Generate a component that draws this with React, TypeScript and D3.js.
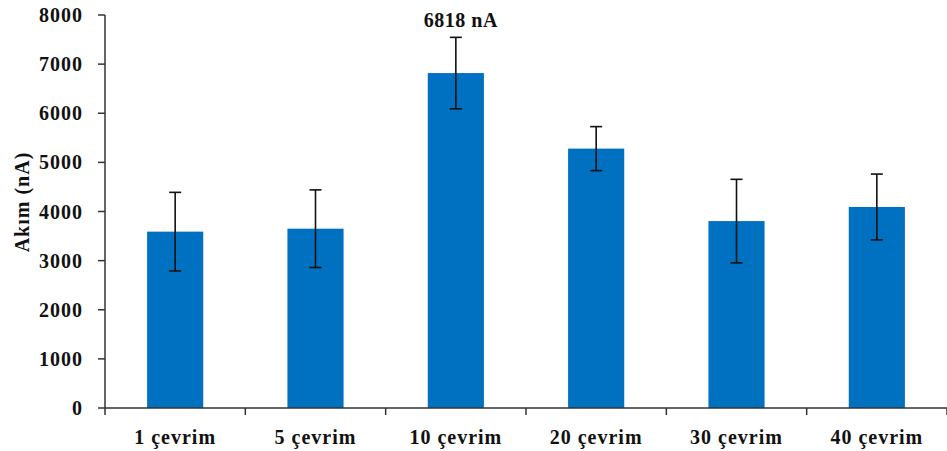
import React from "react";
import * as d3 from "d3";

const categories = ["1 çevrim", "5 çevrim", "10 çevrim", "20 çevrim", "30 çevrim", "40 çevrim"];
const values = [3590, 3650, 6818, 5280, 3805, 4092];
const errors = [800, 790, 727, 448, 850, 670];
const yTicks = [0, 1000, 2000, 3000, 4000, 5000, 6000, 7000, 8000];
const peakLabel = "6818 nA";
const yTitle = "Akım (nA)";

const W = 947;
const H = 451;
const M = { left: 105, right: 947, top: 15, bottom: 408 };

export default function App() {
  const x = d3.scaleBand<string>().domain(categories).range([M.left, M.right]).padding(0);
  const y = d3.scaleLinear().domain([0, 8000]).range([M.bottom, M.top]);
  const bw = x.bandwidth() * 0.4;
  const font = "'Liberation Serif', 'Times New Roman', serif";
  const peakIdx = values.indexOf(d3.max(values) as number);
  const boundaries = d3.range(categories.length + 1).map((i) => M.left + i * x.step());

  return (
    <svg width={W} height={H} style={{ position: "absolute", left: 0, top: 0, background: "#fff" }}
      fontFamily={font} fontWeight="bold">
      {/* bars */}
      {categories.map((c, i) => (
        <rect key={c} x={(x(c) as number) + (x.bandwidth() - bw) / 2} y={y(values[i])}
          width={bw} height={y(0) - y(values[i])} fill="#0070C0" />
      ))}
      {/* error bars */}
      {categories.map((c, i) => {
        const cx = (x(c) as number) + x.bandwidth() / 2;
        const t = y(values[i] + errors[i]);
        const b = y(values[i] - errors[i]);
        return (
          <g key={c} stroke="#111" strokeWidth={1.6}>
            <line x1={cx} x2={cx} y1={t} y2={b} />
            <line x1={cx - 6} x2={cx + 6} y1={t} y2={t} />
            <line x1={cx - 6} x2={cx + 6} y1={b} y2={b} />
          </g>
        );
      })}
      {/* y axis */}
      <line x1={M.left} x2={M.left} y1={y(8000)} y2={y(0)} stroke="#333" strokeWidth={1.5} />
      {yTicks.map((t) => (
        <g key={t}>
          <line x1={M.left - 7} x2={M.left} y1={y(t)} y2={y(t)} stroke="#333" strokeWidth={1.5} />
          <text x={83} y={y(t)} dy="0.35em" textAnchor="end" fontSize={20} letterSpacing={1} fill="#111">
            {t}
          </text>
        </g>
      ))}
      {/* x axis */}
      <line x1={M.left} x2={M.right} y1={y(0)} y2={y(0)} stroke="#333" strokeWidth={1.5} />
      {boundaries.map((bx, i) => (
        <line key={i} x1={bx} x2={bx} y1={y(0)} y2={y(0) + 7} stroke="#333" strokeWidth={1.5} />
      ))}
      {categories.map((c) => (
        <text key={c} x={(x(c) as number) + x.bandwidth() / 2} y={444} textAnchor="middle"
          fontSize={20} letterSpacing={1} fill="#111">
          {c}
        </text>
      ))}
      {/* peak label */}
      <text x={(x(categories[peakIdx]) as number) + x.bandwidth() / 2 + 5} y={27} textAnchor="middle"
        fontSize={20} letterSpacing={0.5} fill="#111">
        {peakLabel}
      </text>
      {/* y title */}
      <text transform={`translate(29, ${(150 + 254) / 2}) rotate(-90)`} textAnchor="middle"
        fontSize={20} letterSpacing={1} fill="#111">
        {yTitle}
      </text>
    </svg>
  );
}
